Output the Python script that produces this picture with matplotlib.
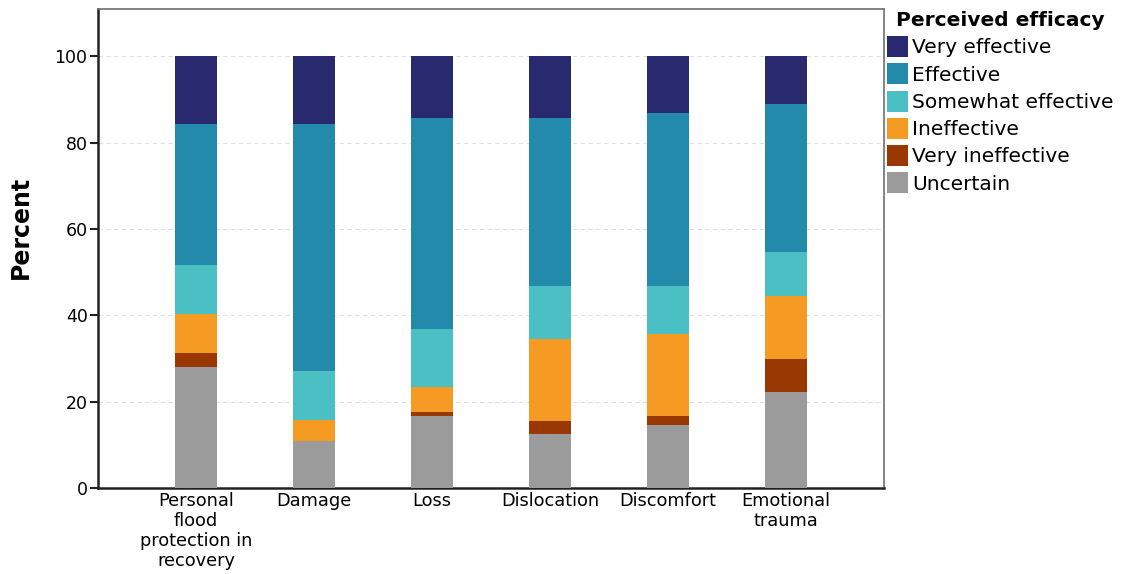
import numpy as np
import matplotlib
matplotlib.use("Agg")
import matplotlib.pyplot as plt
from matplotlib.patches import Patch

plt.rcParams['font.family'] = ['DejaVu Sans']

categories = ["Personal\nflood\nprotection in\nrecovery", "Damage", "Loss",
              "Dislocation", "Discomfort", "Emotional\ntrauma"]

# Percentages per response level (stacked from the bottom up)
uncertain          = [28.0, 10.9, 16.6, 12.4, 14.7, 22.2]
very_ineffective   = [3.2,  0.0,  1.1,  3.1,  1.9,  7.8]
ineffective        = [9.2,  4.9,  5.6, 19.0, 19.1, 14.6]
somewhat_effective = [11.3, 11.4, 13.5, 12.3, 11.1, 10.0]
effective          = [32.6, 57.1, 48.9, 38.9, 40.2, 34.5]
very_effective     = [15.7, 15.7, 14.3, 14.3, 13.0, 10.9]

levels = ["Uncertain", "Very ineffective", "Ineffective",
          "Somewhat effective", "Effective", "Very effective"]
series = [uncertain, very_ineffective, ineffective,
          somewhat_effective, effective, very_effective]
colors = ["#9b9b9b", "#9a3804", "#f59a22", "#4ac0c4", "#248aab", "#29296f"]

yticks = [0, 20, 40, 60, 80, 100]

fig = plt.figure(figsize=(11.25, 5.74), dpi=100)
ax = fig.add_axes([98/1125, 1 - 488/574, 786/1125, 479/574])

x = np.arange(len(categories))
bottom = np.zeros(len(categories))
for vals, col in zip(series, colors):
    v = np.array(vals)
    ax.bar(x, v, width=0.35, bottom=bottom, color=col, edgecolor='none', zorder=3)
    bottom += v

ax.set_xlim(-0.83, 5.83)
ax.set_ylim(0, 111)
ax.set_yticks(yticks)
ax.set_yticklabels([str(t) for t in yticks], fontsize=12.5)
ax.set_xticks(x)
ax.set_xticklabels(categories, fontsize=12.8, linespacing=1.15)
ax.tick_params(axis='x', length=0, pad=3)
ax.tick_params(axis='y', length=6, width=1.5, pad=1.5, color='#222222')

for t in yticks[1:]:
    ax.axhline(t, color='#e0e0e0', lw=0.8, ls=(0, (4, 3)), zorder=1)

for side in ['left', 'bottom']:
    ax.spines[side].set_color('#222222')
    ax.spines[side].set_linewidth(1.8)
for side in ['top', 'right']:
    ax.spines[side].set_color('#707070')
    ax.spines[side].set_linewidth(1.2)

ax.set_ylabel("Percent", fontsize=17, fontweight='bold')
ax.yaxis.set_label_coords(-0.083, 0.545)

handles = [Patch(facecolor=c, edgecolor='none') for c in colors[::-1]]
leg = fig.legend(handles, levels[::-1], title="Perceived efficacy",
                 loc='upper left', bbox_to_anchor=(887/1125, 1 - 11/574),
                 frameon=False, fontsize=14.5, borderpad=0, borderaxespad=0,
                 handlelength=1.05, handleheight=1.22, labelspacing=0.3,
                 handletextpad=0.2, alignment='center',
                 title_fontproperties={'size': 14.5, 'weight': 'bold'})

fig.savefig("out.png", dpi=100)
